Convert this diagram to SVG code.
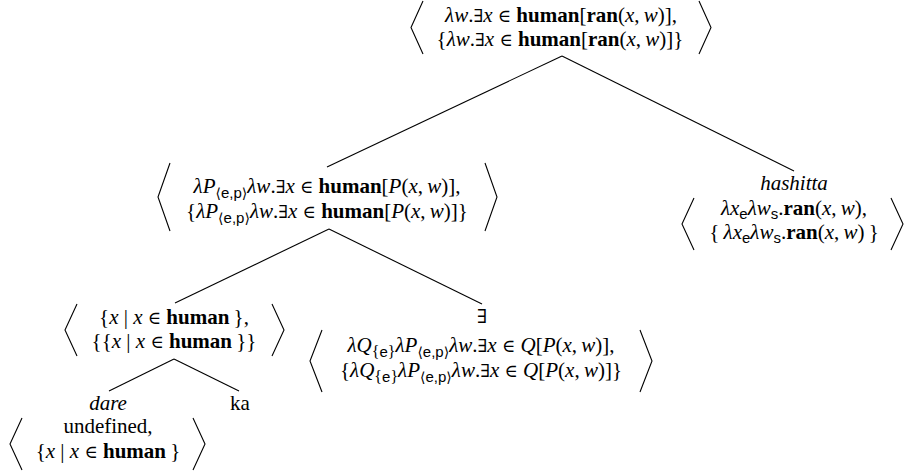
<svg xmlns="http://www.w3.org/2000/svg" width="904" height="475" viewBox="0 0 904 475">
<style>
text{font-family:'Liberation Serif','Times New Roman','DejaVu Serif',serif;font-size:21px;fill:#000;text-anchor:middle}
.i{font-style:italic}
.b{font-weight:bold}
.m{font-family:'DejaVu Serif','Liberation Serif',serif;font-size:18px}
.s{font-family:'Liberation Sans',Arial,sans-serif;font-size:15px}
.sb{font-family:'DejaVu Sans',sans-serif;font-size:14px}
.sub{font-size:16px}
.br{fill:none;stroke:#000;stroke-width:1.1}
.ln{stroke:#000;stroke-width:1.1;fill:none}
</style>
<rect width="904" height="475" fill="#fff"/>
<g id="connectors">
<line class="ln" x1="562" y1="56" x2="327" y2="167"/>
<line class="ln" x1="562" y1="56" x2="794" y2="171"/>
<line class="ln" x1="329" y1="229" x2="175" y2="303"/>
<line class="ln" x1="329" y1="229" x2="482" y2="304"/>
<line class="ln" x1="174" y1="359" x2="109" y2="391"/>
<line class="ln" x1="174" y1="359" x2="239" y2="391"/>
</g>
<g id="n-root">
<polyline class="br" points="423,1 411,27.5 423,54"/>
<polyline class="br" points="699,1 711,27.5 699,54"/>
<text x="561" y="22"><tspan class="i">λw</tspan>.<tspan class="m">∃</tspan><tspan class="i">x</tspan> <tspan class="m">∈</tspan> <tspan class="b">human</tspan>[<tspan class="b">ran</tspan>(<tspan class="i">x</tspan>,&#8201;<tspan class="i">w</tspan>)],</text>
<text x="560" y="46">{<tspan class="i">λw</tspan>.<tspan class="m">∃</tspan><tspan class="i">x</tspan> <tspan class="m">∈</tspan> <tspan class="b">human</tspan>[<tspan class="b">ran</tspan>(<tspan class="i">x</tspan>,&#8201;<tspan class="i">w</tspan>)]}</text>
</g>
<g id="n-np">
<polyline class="br" points="170,163 158,197 170,231"/>
<polyline class="br" points="485,163 497,197 485,231"/>
<text x="327" y="193"><tspan class="i">λP</tspan><tspan class="sb" dy="5">⟨</tspan><tspan class="s">e,p</tspan><tspan class="sb">⟩</tspan><tspan class="i" dy="-5">λw</tspan>.<tspan class="m">∃</tspan><tspan class="i">x</tspan> <tspan class="m">∈</tspan> <tspan class="b">human</tspan>[<tspan class="i">P</tspan>(<tspan class="i">x</tspan>,&#8201;<tspan class="i">w</tspan>)],</text>
<text x="327" y="218">{<tspan class="i">λP</tspan><tspan class="sb" dy="5">⟨</tspan><tspan class="s">e,p</tspan><tspan class="sb">⟩</tspan><tspan class="i" dy="-5">λw</tspan>.<tspan class="m">∃</tspan><tspan class="i">x</tspan> <tspan class="m">∈</tspan> <tspan class="b">human</tspan>[<tspan class="i">P</tspan>(<tspan class="i">x</tspan>,&#8201;<tspan class="i">w</tspan>)]}</text>
</g>
<g id="n-vp">
<text class="i" x="794" y="190">hashitta</text>
<polyline class="br" points="694,198 682,224 694,250"/>
<polyline class="br" points="891,198 903,224 891,250"/>
<text x="794" y="215"><tspan class="i">λx</tspan><tspan class="s" dy="4">e</tspan><tspan class="i" dy="-4">λw</tspan><tspan class="s" dy="4">s</tspan><tspan dy="-4">.</tspan><tspan class="b">ran</tspan>(<tspan class="i">x</tspan>,&#8201;<tspan class="i">w</tspan>),</text>
<text x="794" y="239">{&#8201;<tspan class="i">λx</tspan><tspan class="s" dy="4">e</tspan><tspan class="i" dy="-4">λw</tspan><tspan class="s" dy="4">s</tspan><tspan dy="-4">.</tspan><tspan class="b">ran</tspan>(<tspan class="i">x</tspan>,&#8201;<tspan class="i">w</tspan>)&#8201;}</text>
</g>
<g id="n-dareka">
<polyline class="br" points="77,304 65,330 77,356"/>
<polyline class="br" points="272,304 284,330 272,356"/>
<text x="174" y="324">{<tspan class="i">x</tspan> | <tspan class="i">x</tspan> <tspan class="m">∈</tspan> <tspan class="b">human</tspan>&#8201;},</text>
<text x="174" y="348">{{<tspan class="i">x</tspan> | <tspan class="i">x</tspan> <tspan class="m">∈</tspan> <tspan class="b">human</tspan>&#8201;}}</text>
</g>
<g id="n-exists">
<text x="482" y="323"><tspan class="m" style="font-size:19px">∃</tspan></text>
<polyline class="br" points="322,330 310,361 322,392"/>
<polyline class="br" points="640,330 652,361 640,392"/>
<text x="481" y="352"><tspan class="i">λQ</tspan><tspan class="sub" dy="5">{</tspan><tspan class="s">e</tspan><tspan class="sub">}</tspan><tspan class="i" dy="-5">λP</tspan><tspan class="sb" dy="5">⟨</tspan><tspan class="s">e,p</tspan><tspan class="sb">⟩</tspan><tspan class="i" dy="-5">λw</tspan>.<tspan class="m">∃</tspan><tspan class="i">x</tspan> <tspan class="m">∈</tspan> <tspan class="i">Q</tspan>[<tspan class="i">P</tspan>(<tspan class="i">x</tspan>,&#8201;<tspan class="i">w</tspan>)],</text>
<text x="481" y="377">{<tspan class="i">λQ</tspan><tspan class="sub" dy="5">{</tspan><tspan class="s">e</tspan><tspan class="sub">}</tspan><tspan class="i" dy="-5">λP</tspan><tspan class="sb" dy="5">⟨</tspan><tspan class="s">e,p</tspan><tspan class="sb">⟩</tspan><tspan class="i" dy="-5">λw</tspan>.<tspan class="m">∃</tspan><tspan class="i">x</tspan> <tspan class="m">∈</tspan> <tspan class="i">Q</tspan>[<tspan class="i">P</tspan>(<tspan class="i">x</tspan>,&#8201;<tspan class="i">w</tspan>)]}</text>
</g>
<g id="n-dare">
<text class="i" x="108" y="410">dare</text>
<polyline class="br" points="22,418 10,444 22,470"/>
<polyline class="br" points="193,418 205,444 193,470"/>
<text x="108" y="433">undefined,</text>
<text x="108" y="458">{<tspan class="i">x</tspan> | <tspan class="i">x</tspan> <tspan class="m">∈</tspan> <tspan class="b">human</tspan>&#8201;}</text>
</g>
<g id="n-ka">
<text x="240" y="410">ka</text>
</g>
</svg>
